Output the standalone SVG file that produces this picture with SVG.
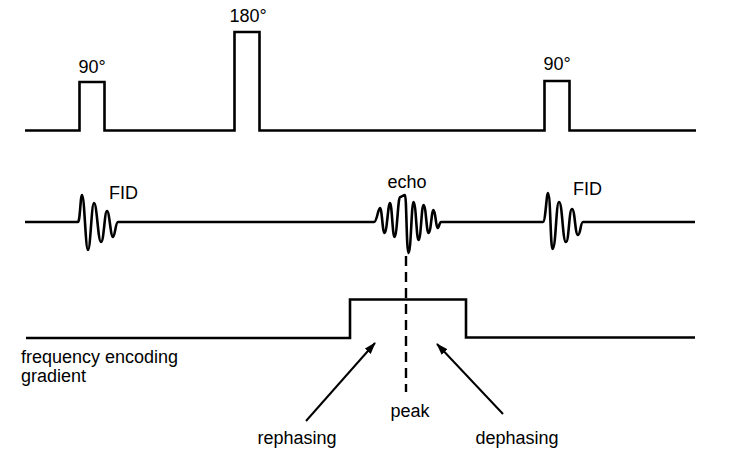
<svg xmlns="http://www.w3.org/2000/svg" width="729" height="470" viewBox="0 0 729 470">
<defs>
<style>
.ln{fill:none;stroke:#000;stroke-width:2.6;stroke-linejoin:miter}
.wv{fill:none;stroke:#000;stroke-width:2.6;stroke-linejoin:round}
.t{font-family:"Liberation Sans",Arial,sans-serif;font-size:18px;fill:#000}
.ar{fill:none;stroke:#000;stroke-width:2}
</style>
<marker id="ah" markerWidth="12" markerHeight="8" refX="11" refY="4" orient="auto" markerUnits="userSpaceOnUse">
<path d="M0,0 L12,4 L0,8 Z" fill="#000"/>
</marker>
</defs>
<rect width="729" height="470" fill="#fff"/>
<g id="rf-line">
<path class="ln" d="M25,130.5 H79.5 V82 H104.5 V130.5 H234.5 V32 H259.5 V130.5 H544.5 V81 H569.5 V130.5 H696"/>
</g>
<g id="pulse-90-1"><text class="t" x="92" y="73" text-anchor="middle">90°</text></g>
<g id="pulse-180"><text class="t" x="248" y="22" text-anchor="middle">180°</text></g>
<g id="pulse-90-2"><text class="t" x="557" y="70" text-anchor="middle">90°</text></g>
<g id="signal-line">
<path class="wv" d="M25,222 H78 C80,222 80.5,195 82,195 C84.5,195 85.5,250 88,250 C90.5,250 91.5,203 94,203 C97,203 98,242 101,242 C104,242 104.5,211 107,211 C109.5,211 110.5,237 113,237 C115,237 115.5,222 118,222 H374 C377,222 378,208 380,208 C382,208 382.5,233 384.5,233 C387,233 388,203 390,203 C392,203 392.5,237 394.5,237 C397,237 398,197 400,197 C402,197 403,195 405,195 C406.5,195 406.5,253 408.5,253 C411,253 411.5,202 413.5,202 C416,202 416.5,240 418.5,240 C421,240 421.5,205 423.5,205 C426,205 426.5,233 428.5,233 C431,233 431.5,210 433.5,210 C435.5,210 436,228 437.5,228 C439,228 439.5,222 441,222 H543 C545.5,222 546.5,193 548,193 C550.5,193 550.5,249 552.5,249 C556,249 556,202 559,202 C562.5,202 562.5,242 566,242 C569,242 569,209 572,209 C575,209 575,235 578,235 C580.5,235 580.5,222 583,222 H695"/>
</g>
<g id="fid-1"><text class="t" x="109" y="199">FID</text></g>
<g id="echo"><text class="t" x="407" y="188" text-anchor="middle">echo</text></g>
<g id="fid-2"><text class="t" x="573" y="195">FID</text></g>
<g id="gradient">
<path class="ln" d="M26,338 H350 V299.5 H466 V337.5 H695"/>
<text class="t" x="21" y="363">frequency encoding</text>
<text class="t" x="21" y="382">gradient</text>
</g>
<g id="peak">
<line x1="406" y1="256" x2="406" y2="392" stroke="#000" stroke-width="2.4" stroke-dasharray="10,6"/>
<text class="t" x="410" y="417" text-anchor="middle">peak</text>
</g>
<g id="rephasing"><text class="t" x="297" y="444" text-anchor="middle">rephasing</text></g>
<g id="dephasing"><text class="t" x="517" y="444" text-anchor="middle">dephasing</text></g>
<g id="connectors">
<line class="ar" x1="306" y1="421" x2="375" y2="343" marker-end="url(#ah)"/>
<line class="ar" x1="503" y1="414" x2="437" y2="344" marker-end="url(#ah)"/>
</g>
</svg>
